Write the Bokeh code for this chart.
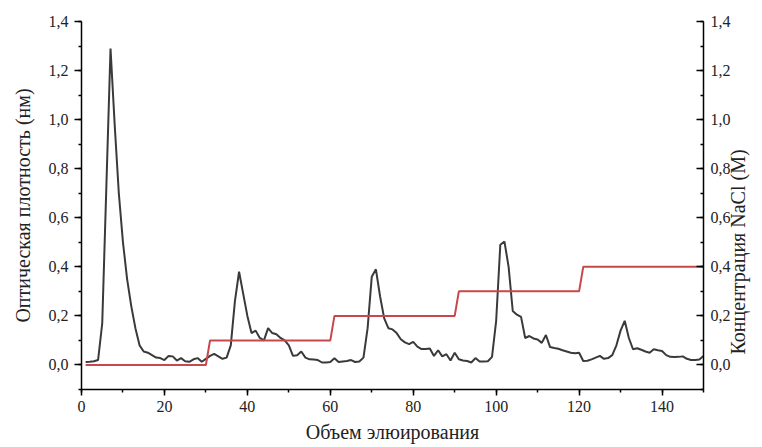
import math
from bokeh.plotting import figure
from bokeh.models import Range1d, LinearAxis, SingleIntervalTicker, CustomJSTickFormatter
from bokeh.embed import file_html
from bokeh.resources import INLINE

# --- data ---
volume = list(range(1, 151))
absorbance = [
    0.012, 0.013, 0.015, 0.020, 0.170, 0.730, 1.290, 0.980, 0.700, 0.500,
    0.350, 0.240, 0.150, 0.080, 0.055, 0.050, 0.040, 0.030, 0.028, 0.020,
    0.037, 0.035, 0.018, 0.028, 0.015, 0.013, 0.023, 0.028, 0.013, 0.025,
    0.037, 0.045, 0.035, 0.025, 0.030, 0.080, 0.260, 0.380, 0.290, 0.200,
    0.130, 0.140, 0.110, 0.100, 0.150, 0.130, 0.125, 0.110, 0.100, 0.080,
    0.037, 0.040, 0.055, 0.030, 0.023, 0.022, 0.020, 0.010, 0.010, 0.012,
    0.027, 0.012, 0.014, 0.016, 0.020, 0.012, 0.014, 0.030, 0.150, 0.360,
    0.390, 0.280, 0.190, 0.150, 0.145, 0.130, 0.105, 0.092, 0.085, 0.094,
    0.075, 0.065, 0.065, 0.067, 0.037, 0.060, 0.035, 0.044, 0.018, 0.050,
    0.023, 0.018, 0.016, 0.010, 0.028, 0.014, 0.014, 0.015, 0.033, 0.180,
    0.490, 0.503, 0.400, 0.220, 0.205, 0.196, 0.110, 0.118, 0.108, 0.104,
    0.090, 0.122, 0.073, 0.069, 0.066, 0.060, 0.055, 0.050, 0.048, 0.050,
    0.016, 0.017, 0.023, 0.030, 0.037, 0.025, 0.028, 0.040, 0.080, 0.140,
    0.180, 0.110, 0.064, 0.068, 0.062, 0.055, 0.050, 0.064, 0.060, 0.057,
    0.040, 0.033, 0.032, 0.033, 0.035, 0.025, 0.020, 0.020, 0.022, 0.037,
]
nacl_volume = [1, 30, 31, 60, 61, 90, 91, 120, 121, 150]
nacl_conc = [0.0, 0.0, 0.1, 0.1, 0.2, 0.2, 0.3, 0.3, 0.4, 0.4]

x_label = "Объем элюирования"
y_left_label = "Оптическая плотность (нм)"
y_right_label = "Концентрация NaCl (M)"

FONT = "Liberation Serif"
TXT = "#222222"

p = figure(width=762, height=447, x_range=Range1d(0, 150), y_range=Range1d(-0.1, 1.40001),
           output_backend="svg", toolbar_location=None, title_location=None,
           min_border_left=81, min_border_right=53, min_border_top=21, min_border_bottom=58)
p.extra_y_ranges = {"nacl": Range1d(-0.1, 1.40001)}
p.outline_line_color = None
p.grid.visible = False
p.background_fill_color = "white"

p.line(volume, absorbance, line_color="#3a3a3a", line_width=2)
p.line(nacl_volume, nacl_conc, line_color="#c8474a", line_width=2, y_range_name="nacl")

fmt = CustomJSTickFormatter(code="return tick.toFixed(1).replace('.', ',');")

def style(ax):
    ax.axis_line_color = "black"
    ax.axis_line_width = 1.5
    ax.major_tick_line_color = "black"
    ax.major_tick_line_width = 1.5
    ax.minor_tick_line_color = "black"
    ax.minor_tick_line_width = 1.5
    ax.major_label_text_font = FONT
    ax.major_label_text_font_size = "16px"
    ax.major_label_text_color = TXT
    ax.axis_label_text_font = FONT
    ax.axis_label_text_font_size = "20px"
    ax.axis_label_text_font_style = "normal"
    ax.axis_label_text_color = TXT

xa = p.xaxis[0]
xa.ticker = SingleIntervalTicker(interval=20, num_minor_ticks=2)
style(xa)
xa.major_tick_out = 6
xa.major_tick_in = 0
xa.minor_tick_out = 3
xa.minor_tick_in = 0
xa.major_label_standoff = 5
xa.axis_label = x_label
xa.axis_label_standoff = 6

ya = p.yaxis[0]
ya.ticker = SingleIntervalTicker(interval=0.2, num_minor_ticks=2)
ya.formatter = fmt
style(ya)
ya.major_tick_out = 7
ya.major_tick_in = 0
ya.minor_tick_out = 3
ya.minor_tick_in = 0
ya.major_label_standoff = 6
ya.axis_label = y_left_label
ya.axis_label_standoff = 12

yr = LinearAxis(y_range_name="nacl", ticker=SingleIntervalTicker(interval=0.2, num_minor_ticks=2),
                formatter=fmt)
style(yr)
yr.major_tick_out = 0
yr.major_tick_in = 7
yr.minor_tick_out = 0
yr.minor_tick_in = 3
yr.major_label_standoff = 7
# leading no-break spaces lift the bottom-anchored title to where the reference shows it
yr.axis_label = "\u00a0" * 7 + y_right_label
yr.axis_label_standoff = 4
try:
    yr.axis_label_orientation = math.pi / 2
    yr.axis_label_align = "start"
except Exception:
    pass
p.add_layout(yr, "right")

open("out.html", "w").write(file_html(p, INLINE))
